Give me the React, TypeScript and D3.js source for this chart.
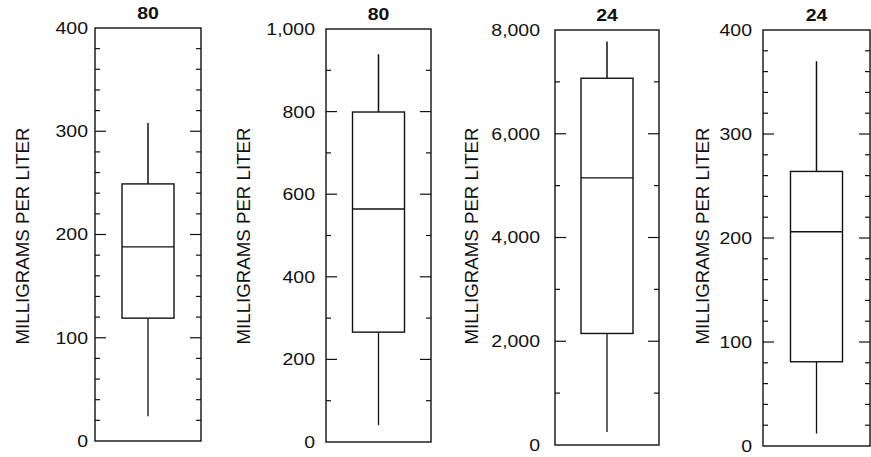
import React, { useEffect, useRef } from 'react';
import * as d3 from 'd3';

// sample counts shown above each box
const titles = ['80', '80', '24', '24'];
const yMax = [400, 1000, 8000, 400];
const majorStep = [100, 200, 2000, 100];
const minorStep = [20, 100, 1000, 20];

// box plot stats, mg/L
const whiskerLow = [24, 41, 250, 12];
const q1 = [119, 266, 2150, 81];
const median = [188, 564, 5150, 206];
const q3 = [249, 799, 7070, 264];
const whiskerHigh = [308, 939, 7780, 370];

// panel frames on the page
const FRAMES = [
  { x0: 95, x1: 201, y0: 28, y1: 441, labelX: 22, gap: 7 },
  { x0: 326, x1: 431, y0: 29, y1: 442, labelX: 243, gap: 11 },
  { x0: 555, x1: 659, y0: 30, y1: 445, labelX: 471, gap: 15 },
  { x0: 763, x1: 870, y0: 30, y1: 446, labelX: 702, gap: 11 },
];

const W = 871;
const H = 457;
const BOX_W = 52;
const INK = '#111';
const FONT = '"Liberation Sans", Arial, Helvetica, sans-serif';
const STRETCH = 1.18; // the scanned lettering is wider than Arial

const App = () => {
  const svgRef = useRef<SVGSVGElement>(null);

  useEffect(() => {
    const svg = d3.select(svgRef.current);
    svg.selectAll('*').remove();

    FRAMES.forEach((f, i) => {
      const g = svg.append('g');
      const y = d3.scaleLinear().domain([0, yMax[i]]).range([f.y1, f.y0]);
      const cx = (f.x0 + f.x1) / 2;

      const majors = d3.range(0, yMax[i] + 1e-9, majorStep[i]);
      const minors = d3
        .range(0, yMax[i] + 1e-9, minorStep[i])
        .filter((v) => !majors.includes(v));

      // ticks on both sides, pointing inward
      const tickLines = (vals: number[], len: number) => {
        vals.forEach((v) => {
          if (v === 0 || v === yMax[i]) return;
          g.append('line')
            .attr('x1', f.x0).attr('x2', f.x0 + len)
            .attr('y1', y(v)).attr('y2', y(v))
            .attr('stroke', INK).attr('stroke-width', 1.2);
          g.append('line')
            .attr('x1', f.x1).attr('x2', f.x1 - len)
            .attr('y1', y(v)).attr('y2', y(v))
            .attr('stroke', INK).attr('stroke-width', 1.2);
        });
      };
      tickLines(majors, 11);
      tickLines(minors, 5);

      g.append('rect')
        .attr('x', f.x0).attr('y', f.y0)
        .attr('width', f.x1 - f.x0).attr('height', f.y1 - f.y0)
        .attr('fill', 'none').attr('stroke', INK).attr('stroke-width', 1.4);

      g.selectAll('.lab')
        .data(majors)
        .enter()
        .append('text')
        .attr('transform', (d) => `translate(${f.x0 - f.gap},${y(d)}) scale(${STRETCH},1)`)
        .attr('dy', '0.36em')
        .attr('text-anchor', 'end')
        .attr('font-family', FONT)
        .attr('font-size', 16.5)
        .attr('fill', INK)
        .text((d) => d3.format(',')(d));

      g.append('text')
        .attr('transform', `translate(${f.labelX},236) rotate(-90)`)
        .attr('dy', '0.36em')
        .attr('text-anchor', 'middle')
        .attr('font-family', FONT)
        .attr('font-size', 18.5)
        .attr('textLength', 217)
        .attr('lengthAdjust', 'spacingAndGlyphs')
        .attr('fill', INK)
        .text('MILLIGRAMS PER LITER');

      g.append('text')
        .attr('transform', `translate(${cx},${f.y0 - 9}) scale(${STRETCH},1)`)
        .attr('text-anchor', 'middle')
        .attr('font-family', FONT)
        .attr('font-weight', 'bold')
        .attr('font-size', 16.5)
        .attr('fill', INK)
        .text(titles[i]);

      // whiskers
      g.append('line')
        .attr('x1', cx).attr('x2', cx)
        .attr('y1', y(q3[i])).attr('y2', y(whiskerHigh[i]))
        .attr('stroke', INK).attr('stroke-width', 1.5);
      g.append('line')
        .attr('x1', cx).attr('x2', cx)
        .attr('y1', y(q1[i])).attr('y2', y(whiskerLow[i]))
        .attr('stroke', INK).attr('stroke-width', 1.3);

      g.append('rect')
        .attr('x', cx - BOX_W / 2).attr('y', y(q3[i]))
        .attr('width', BOX_W).attr('height', y(q1[i]) - y(q3[i]))
        .attr('fill', 'white').attr('stroke', INK).attr('stroke-width', 1.4);

      g.append('line')
        .attr('x1', cx - BOX_W / 2).attr('x2', cx + BOX_W / 2)
        .attr('y1', y(median[i])).attr('y2', y(median[i]))
        .attr('stroke', INK).attr('stroke-width', 1.4);
    });
  }, []);

  return (
    <svg
      ref={svgRef}
      width={W}
      height={H}
      style={{ position: 'absolute', left: 0, top: 0, background: 'white' }}
    />
  );
};

export default App;
